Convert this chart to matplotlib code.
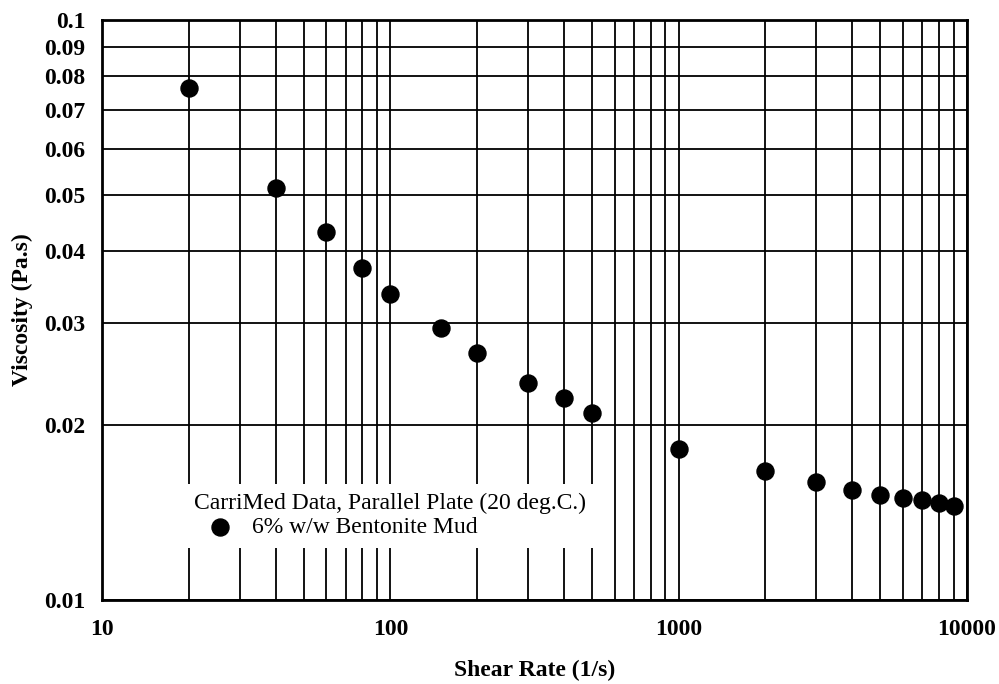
import matplotlib.pyplot as plt
from matplotlib.ticker import LogLocator, FixedLocator, NullFormatter, FixedFormatter

# data
shear_rate = [20, 40, 60, 80, 100, 150, 200, 300, 400, 500,
              1000, 2000, 3000, 4000, 5000, 6000, 7000, 8000, 9000]
viscosity = [0.0763, 0.0513, 0.0431, 0.0374, 0.0337, 0.0294, 0.0267, 0.0237, 0.0223, 0.0210,
             0.0182, 0.0167, 0.0160, 0.0155, 0.0152, 0.0150, 0.0149, 0.0147, 0.0145]

y_ticks = [0.01, 0.02, 0.03, 0.04, 0.05, 0.06, 0.07, 0.08, 0.09, 0.1]
y_labels = ['0.01', '0.02', '0.03', '0.04', '0.05', '0.06', '0.07', '0.08', '0.09', '0.1']
x_ticks = [10, 100, 1000, 10000]
x_labels = ['10', '100', '1000', '10000']

plt.rcParams['font.family'] = ['Liberation Serif', 'DejaVu Serif']

fig = plt.figure(figsize=(9.99, 6.84), dpi=100)
ax = fig.add_axes([102/999, 1 - 600/684, 865/999, 580/684])

ax.scatter(shear_rate, viscosity, s=150, color='black', zorder=5,
           label='6% w/w Bentonite Mud')

ax.set_xscale('log')
ax.set_yscale('log')
ax.set_xlim(10, 10000)
ax.set_ylim(0.01, 0.1)

ax.xaxis.set_major_locator(FixedLocator(x_ticks))
ax.xaxis.set_major_formatter(FixedFormatter(x_labels))
ax.xaxis.set_minor_locator(LogLocator(base=10, subs=range(2, 10)))
ax.xaxis.set_minor_formatter(NullFormatter())
ax.yaxis.set_major_locator(FixedLocator(y_ticks))
ax.yaxis.set_major_formatter(FixedFormatter(y_labels))
ax.yaxis.set_minor_locator(FixedLocator([]))

ax.grid(True, which='both', color='black', linewidth=1.3)
ax.tick_params(which='both', length=0, labelsize=17)
ax.tick_params(axis='x', pad=14)
ax.tick_params(axis='y', pad=12)
for lab in ax.get_xticklabels() + ax.get_yticklabels():
    lab.set_fontweight('bold')
for sp in ax.spines.values():
    sp.set_linewidth(2)

ax.set_xlabel('Shear Rate (1/s)', fontsize=17, fontweight='bold', labelpad=14)
ax.set_ylabel('Viscosity (Pa.s)', fontsize=17, fontweight='bold', labelpad=8)

leg = ax.legend(loc='lower left', bbox_to_anchor=(0.082, 0.07),
                title='CarriMed Data, Parallel Plate (20 deg.C.)',
                fontsize=17, title_fontsize=17, frameon=True, fancybox=False,
                edgecolor='none', framealpha=1, borderpad=0.4, alignment='left',
                handlelength=2.2, handletextpad=0.25, labelspacing=0.1)
leg.set_zorder(10)

fig.savefig('out.png', dpi=100)
